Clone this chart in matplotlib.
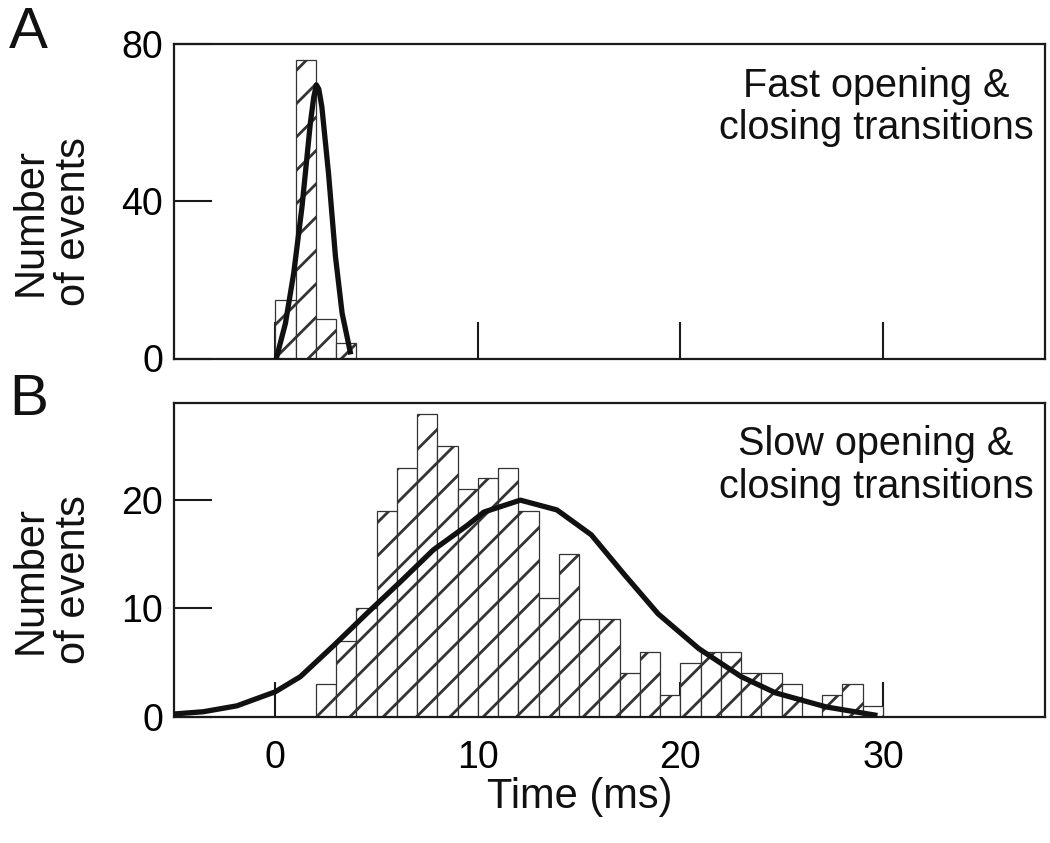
import matplotlib
matplotlib.use("Agg")
import matplotlib.pyplot as plt
import numpy as np

plt.rcParams['font.family'] = ['Liberation Sans', 'DejaVu Sans']
plt.rcParams['hatch.linewidth'] = 2.0
plt.rcParams['hatch.color'] = '#111111'

# ---- data ----
binsA_left = [0, 1, 2, 3]
countsA = [15, 76, 10, 4]
fitA_x = [0.05, 0.5, 0.91, 1.32, 1.73, 1.9, 2.03, 2.15, 2.3, 2.63, 2.97, 3.3, 3.7]
fitA_y = [0, 8.9, 21.7, 38.6, 59.8, 66.5, 69.6, 68.5, 64, 47, 26, 11.5, 1.7]

binsB_left = list(range(2, 30))
countsB = [3, 7, 10, 19, 23, 28, 25, 21, 22, 23, 19, 11, 15, 9, 9, 4, 6, 2,
           5, 6, 6, 4, 4, 3, 0, 2, 3, 1]
fitB_x = [-5, -3.55, -1.9, 0, 1.24, 2.9, 4.5, 6.2, 7.8, 9.5, 10.3, 12.1, 13.9,
          15.6, 17.2, 18.9, 20.9, 23.0, 24.7, 27.2, 29.6]
fitB_y = [0.25, 0.46, 1.0, 2.3, 3.7, 6.6, 9.5, 12.5, 15.4, 17.7, 18.9, 20.0,
          19.1, 16.8, 13.2, 9.5, 6.3, 3.7, 2.2, 0.9, 0.15]

xticks = [0, 10, 20, 30]
yticksA = [0, 40, 80]
yticksB = [0, 10, 20]
textA = "Fast opening &\nclosing transitions"
textB = "Slow opening &\nclosing transitions"
ylabel = "Number\nof events"
xlabel = "Time (ms)"

W, H = 1050, 843
fig = plt.figure(figsize=(W / 100, H / 100), dpi=100)

def ax_rect(l, t, r, b):
    return [l / W, 1 - b / H, (r - l) / W, (b - t) / H]

axA = fig.add_axes(ax_rect(174, 44, 1045, 358.5))
axB = fig.add_axes(ax_rect(174, 402.7, 1045, 716.7))

for ax in (axA, axB):
    for s in ax.spines.values():
        s.set_linewidth(1.6)
        s.set_color('#1a1a1a')
    ax.set_xlim(-5, 38)

# Panel A
axA.bar(binsA_left, countsA, width=1, align='edge', facecolor='white',
        edgecolor='#333333', linewidth=0.9, hatch='/', zorder=2)
axA.plot(fitA_x, fitA_y, color='#111111', lw=3.8, zorder=3,
         solid_joinstyle='round')
axA.set_ylim(0, 80)
axA.set_yticks(yticksA)
axA.set_xticks(xticks)
axA.set_xticklabels([])
axA.tick_params(axis='x', direction='in', length=27, width=1.5, color='#1a1a1a')
axA.tick_params(axis='y', direction='in', length=27, width=1.5, color='#1a1a1a',
                labelsize=27, pad=8)
axA.text(0.806, 0.80, textA, transform=axA.transAxes, ha='center',
         va='center', fontsize=28.5, linespacing=1.15, color='#111111')

# Panel B
axB.bar(binsB_left, countsB, width=1, align='edge', facecolor='white',
        edgecolor='#333333', linewidth=0.9, hatch='/', zorder=2)
axB.plot(fitB_x, fitB_y, color='#111111', lw=3.8, zorder=3,
         solid_joinstyle='round')
axB.set_ylim(0, 29)
axB.set_yticks(yticksB)
axB.set_xticks(xticks)
axB.tick_params(axis='x', direction='in', length=25, width=1.5, color='#1a1a1a',
                labelsize=27, pad=17)
axB.tick_params(axis='y', direction='in', length=27, width=1.5, color='#1a1a1a',
                labelsize=27, pad=8)
axB.text(0.806, 0.80, textB, transform=axB.transAxes, ha='center',
         va='center', fontsize=28.5, linespacing=1.15, color='#111111')

# Labels
fig.text(52 / W, 1 - 222 / H, ylabel, rotation=90, ha='center', va='center',
         fontsize=30, linespacing=1.12, color='#111111')
fig.text(52 / W, 1 - 580 / H, ylabel, rotation=90, ha='center', va='center',
         fontsize=30, linespacing=1.12, color='#111111')
fig.text(580 / W, 1 - 797 / H, xlabel, ha='center', va='center', fontsize=30,
         color='#111111')
fig.text(9 / W, 1 - 48 / H, "A", ha='left', va='baseline', fontsize=42,
         color='#111111')
fig.text(9 / W, 1 - 415 / H, "B", ha='left', va='baseline', fontsize=42,
         color='#111111')

fig.savefig("out.png", dpi=100)
